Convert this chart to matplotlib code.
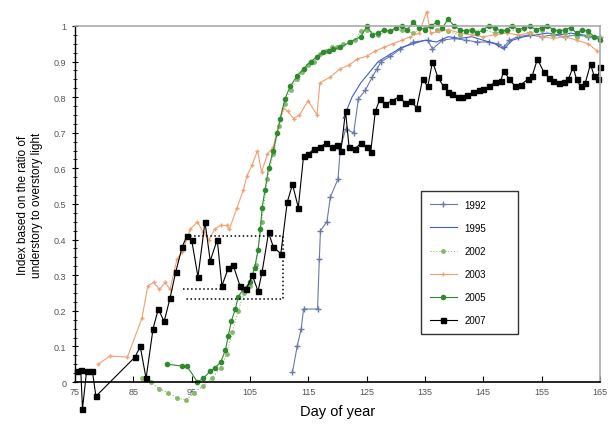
"""Understory light index vs day of year, six seasons."""
import numpy as np
import matplotlib as mpl; mpl.use("Agg")
import matplotlib.pyplot as plt
from matplotlib.ticker import MultipleLocator

plt.rcParams.update({"font.family": "sans-serif",
                     "font.sans-serif": ["Liberation Sans", "DejaVu Sans"],
                     "font.size": 8})

# ---- data ----
d2007 = [75.4, 76.0, 76.3, 77.0, 78.0, 78.6, 85.3, 86.2, 87.2, 88.4, 89.3, 90.3, 91.3, 92.3,
         93.4, 94.2, 95.0, 96.1, 97.3, 98.2, 99.4, 100.2, 101.3, 102.1, 103.3, 104.4, 105.4,
         106.4, 107.1, 108.2, 109.0, 110.3, 111.4, 112.3, 113.3, 114.2, 115.0, 116.0, 117.0,
         118.0, 119.0, 120.0, 120.6, 121.4, 122.0, 123.0, 124.0, 125.0, 125.7, 126.5, 127.3,
         128.2, 129.3, 130.5, 131.6, 132.6, 133.6, 134.6, 135.5, 136.3, 137.2, 138.2, 139.0,
         139.7, 140.6, 141.4, 142.3, 143.3, 144.2, 145.0, 146.0, 147.1, 148.0, 148.5, 149.5,
         150.5, 151.5, 152.6, 153.4, 154.3, 155.4, 156.2, 157.0, 158.0, 158.8, 159.6, 160.4,
         161.0, 161.7, 162.5, 163.4, 164.0, 164.6, 165.0]
v2007 = [0.03, 0.035, -0.075, 0.03, 0.03, -0.04, 0.07, 0.10, 0.01, 0.15, 0.205, 0.17, 0.235, 0.31,
         0.38, 0.41, 0.40, 0.295, 0.45, 0.34, 0.40, 0.27, 0.32, 0.33, 0.27, 0.26, 0.30,
         0.255, 0.31, 0.42, 0.38, 0.36, 0.505, 0.555, 0.49, 0.635, 0.64, 0.655, 0.66,
         0.67, 0.66, 0.665, 0.65, 0.76, 0.66, 0.655, 0.67, 0.66, 0.645, 0.76, 0.795,
         0.78, 0.79, 0.80, 0.785, 0.79, 0.77, 0.85, 0.83, 0.90, 0.857, 0.83, 0.815,
         0.81, 0.80, 0.80, 0.805, 0.815, 0.82, 0.823, 0.83, 0.843, 0.845, 0.874, 0.85,
         0.83, 0.835, 0.85, 0.86, 0.907, 0.87, 0.855, 0.846, 0.84, 0.843, 0.85, 0.885,
         0.85, 0.83, 0.84, 0.893, 0.86, 0.85, 0.885]

d2005 = [90.8, 93.3, 94.2, 96.0, 97.0, 98.2, 99.0, 100.0, 100.8, 101.3, 101.8, 102.5, 103.0,
         103.9, 105.0, 105.8, 106.4, 106.8, 107.1, 107.6, 108.2, 109.0, 109.7, 110.2, 111.0,
         111.9, 113.1, 114.2, 115.4, 116.5, 117.6, 118.6, 119.3, 120.5, 122.2, 124.0, 125.1,
         126, 127, 128, 129, 130, 131, 132, 133, 134, 135, 136, 137, 138, 139, 140, 141, 142,
         143, 144, 145, 146, 147, 148, 149, 150, 151, 152, 153, 154, 155, 156, 157, 158, 159,
         160, 161, 162, 163, 164, 165]
v2005 = [0.05, 0.045, 0.045, 0.0, 0.01, 0.03, 0.04, 0.056, 0.09, 0.13, 0.17, 0.205, 0.24,
         0.26, 0.28, 0.32, 0.37, 0.43, 0.49, 0.54, 0.60, 0.65, 0.70, 0.74, 0.795,
         0.83, 0.86, 0.88, 0.90, 0.913, 0.927, 0.93, 0.935, 0.94, 0.955, 0.97, 1.0,
         0.975, 0.98, 0.99, 0.985, 0.995, 1.0, 0.99, 1.01, 0.995, 0.99, 1.0, 1.01, 0.995, 1.02,
         1.0, 0.99, 0.985, 0.99, 0.98, 0.99, 1.0, 0.995, 0.985, 0.99, 1.0, 0.99, 0.995, 1.0,
         0.99, 0.995, 1.0, 0.99, 0.985, 0.99, 0.995, 0.98, 0.99, 0.985, 0.97, 0.96]

d2002 = [86.5, 88.0, 89.5, 91.0, 92.5, 94.0, 95.5, 97.0, 98.5, 100, 101, 102, 103, 104, 105,
         106, 107, 108, 109, 110, 111, 112, 113, 114, 115, 116, 117, 118, 119, 120, 121, 122,
         123, 124, 125, 127, 129, 131, 133, 135, 137, 139, 141, 143, 145, 147, 149, 151, 153,
         155, 157, 159, 161, 163, 165]
v2002 = [0.01, 0.0, -0.02, -0.03, -0.045, -0.05, -0.03, -0.01, 0.01, 0.04, 0.08, 0.14, 0.20,
         0.25, 0.27, 0.33, 0.45, 0.57, 0.64, 0.72, 0.78, 0.82, 0.85, 0.87, 0.89, 0.90, 0.92,
         0.93, 0.94, 0.94, 0.95, 0.955, 0.96, 0.985, 0.99, 0.975, 0.985, 0.99, 0.98, 0.995,
         0.99, 0.985, 0.975, 0.985, 0.99, 0.98, 0.985, 0.99, 0.98, 0.99, 0.975, 0.98, 0.97,
         0.975, 0.965]

d2003 = [79.0, 81.0, 84.0, 86.5, 87.5, 88.5, 89.5, 90.5, 91.3, 92.5, 93.4, 94.8, 96.0, 97.0,
         98.0, 99.0, 100.0, 101.0, 101.5, 102.8, 103.9, 104.5, 105.4, 106.3, 107.0, 108.0,
         109.0, 110.2, 110.7, 111.5, 112.5, 113.5, 115.0, 116.5, 117.0, 118.8, 120.5, 122.0,
         123.4, 125.0, 126.5, 128.0, 129.5, 131.0, 132.5, 134.0, 135.3, 136.0, 137.5, 139.0,
         141.0, 143.0, 145.0, 147.0, 149.0, 151.0, 153.0, 155.0, 157.0, 159.0, 161.0, 163.0,
         164.5]
v2003 = [0.05, 0.073, 0.07, 0.18, 0.27, 0.28, 0.26, 0.28, 0.26, 0.345, 0.365, 0.43, 0.45, 0.42,
         0.40, 0.43, 0.44, 0.44, 0.43, 0.49, 0.54, 0.58, 0.61, 0.65, 0.59, 0.64,
         0.66, 0.74, 0.77, 0.76, 0.74, 0.75, 0.79, 0.75, 0.84, 0.857, 0.88, 0.89,
         0.907, 0.915, 0.93, 0.94, 0.95, 0.96, 0.97, 0.98, 1.04, 0.98, 0.985, 0.99,
         0.98, 0.975, 0.97, 0.975, 0.98, 0.975, 0.98, 0.97, 0.965, 0.97, 0.96, 0.95,
         0.93]

d1992 = [112.3, 113.1, 113.8, 114.2, 116.6, 116.9, 117.1, 118.2, 118.8, 120.1, 120.5, 121.4,
         122.8, 123.6, 124.8, 126.0, 126.8, 127.5, 129.1, 130.8, 133.0, 135.5, 136.3, 138,
         140, 142, 144, 146, 147.5, 148.5, 149.5, 151, 153, 155, 157, 159, 161, 163, 165]
v1992 = [0.028, 0.10, 0.15, 0.205, 0.205, 0.345, 0.425, 0.45, 0.52, 0.57, 0.655, 0.71,
         0.70, 0.795, 0.82, 0.857, 0.88, 0.90, 0.915, 0.935, 0.955, 0.96, 0.935, 0.96,
         0.965, 0.96, 0.955, 0.955, 0.95, 0.94, 0.96, 0.97, 0.975, 0.97, 0.975, 0.97,
         0.975, 0.97, 0.97]

d1995 = [121, 122.5, 124, 125.5, 127, 129, 131, 133, 135, 137, 139, 141, 143, 145, 147, 148.5,
         150, 152, 154, 156, 158, 160, 162, 164, 165]
v1995 = [0.74, 0.80, 0.84, 0.87, 0.90, 0.92, 0.94, 0.95, 0.96, 0.955, 0.97, 0.965, 0.97, 0.96,
         0.95, 0.935, 0.96, 0.97, 0.975, 0.98, 0.975, 0.98, 0.975, 0.97, 0.965]

# dotted reference box
box_d = [94, 110.6, 110.6, 94]
box_v = [0.41, 0.41, 0.232, 0.232]
mid_d = [93.5, 101.0]
mid_v = [0.26, 0.26]

x_ticks = [75, 85, 95, 105, 115, 125, 135, 145, 155, 165]

fig = plt.figure(figsize=(6.14, 4.35), dpi=100)
ax = fig.add_axes([0.122, 0.1195, 0.855, 0.8185])

kw = dict(clip_on=False, lw=0.8)
ax.plot(d1992, v1992, "-", marker="+", ms=4, color="#6a7aa8", label="1992", **kw)
ax.plot(d1995, v1995, "-", color="#3f5fcf", label="1995", **kw)
ax.plot(d2002, v2002, ":", marker="o", ms=2.5, color="#86b86f", label="2002", **kw)
ax.plot(d2003, v2003, "-", marker="+", ms=3.5, color="#eea274", label="2003", **kw)
ax.plot(d2005, v2005, "-", marker="o", ms=3.0, color="#2f8a2f", label="2005", **kw)
ax.plot(d2007, v2007, "-", marker="s", ms=3.6, color="black", label="2007", **kw)
ax.plot(box_d, box_v, ":", color="black", lw=1.1)
ax.plot(mid_d, mid_v, ":", color="black", lw=1.1)

ax.set_xlim(75, 165)
ax.set_ylim(0, 1)
ax.set_xticks(x_ticks)
ax.set_xticklabels([str(t) for t in x_ticks])
ax.yaxis.set_minor_locator(MultipleLocator(0.025))
ax.set_yticks(np.arange(0, 1.01, 0.1))
ax.set_yticklabels(["0", "0.1", "0.2", "0.3", "0.4", "0.5", "0.6", "0.7", "0.8", "0.9", "1"])
ax.tick_params(axis="y", which="major", direction="inout", length=5, labelsize=6.5,
               labelcolor="#555555")
ax.tick_params(axis="y", which="minor", direction="inout", length=3)
ax.tick_params(axis="x", direction="in", length=4, labelsize=6.5, labelcolor="#555555")
for s in ("top", "right"):
    ax.spines[s].set_color("#aaaaaa")
    ax.spines[s].set_linewidth(1.2)
ax.spines["left"].set_linewidth(1.0)
ax.spines["bottom"].set_linewidth(1.2)

ax.set_xlabel("Day of year", fontsize=10.5, labelpad=6)
ax.set_ylabel("Index based on the ratio of\nunderstory to overstory light", fontsize=8.5,
              labelpad=8)

leg = ax.legend(loc="lower left", bbox_to_anchor=(0.65, 0.121, 0.203, 0.421), mode="expand",
                fontsize=7, frameon=True, fancybox=False, edgecolor="black",
                labelspacing=1.35, handlelength=2.8, borderpad=0.9)
leg.get_frame().set_linewidth(1.0)

fig.savefig("out.png", dpi=100)
